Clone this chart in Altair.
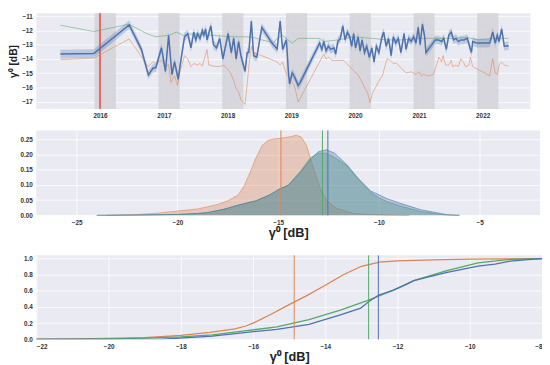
import altair as alt
import pandas as pd

BLUE = "#4C72B0"
ORANGE = "#DD8452"
GREEN = "#55A868"
RED = "#E8433C"
BG = "#EAEAF2"
TITLE = "γ⁰ [dB]"

# ---------------- Panel 1: time series (date, dB) ----------------
blue_series = [
    ("2015-05-19", -13.66), ("2015-11-26", -13.62), ("2016-06-16", -11.61), ("2016-08-25", -13.33),
    ("2016-10-04", -15.13), ("2016-10-30", -14.65), ("2016-11-16", -14.60), ("2016-12-18", -13.22),
    ("2017-01-10", -14.87), ("2017-01-28", -12.34), ("2017-02-16", -15.09), ("2017-03-03", -14.21),
    ("2017-03-24", -15.42), ("2017-04-04", -14.43), ("2017-04-29", -12.45), ("2017-05-18", -12.23),
    ("2017-06-05", -13.22), ("2017-06-21", -12.12), ("2017-07-03", -12.67), ("2017-07-12", -12.23),
    ("2017-07-27", -12.56), ("2017-08-09", -12.01), ("2017-08-18", -12.34), ("2017-08-28", -11.90),
    ("2017-09-05", -12.67), ("2017-09-27", -11.68), ("2017-10-12", -13.00), ("2017-10-30", -13.22),
    ("2017-11-17", -12.56), ("2017-12-05", -13.99), ("2018-01-04", -12.23), ("2018-01-22", -13.55),
    ("2018-02-05", -12.56), ("2018-02-19", -13.99), ("2018-03-05", -12.78), ("2018-03-18", -13.77),
    ("2018-04-11", -14.87), ("2018-04-23", -13.55), ("2018-05-02", -13.55), ("2018-05-17", -11.35),
    ("2018-05-30", -13.77), ("2018-06-17", -13.88), ("2018-07-16", -11.79), ("2018-09-13", -12.90),
    ("2018-10-12", -13.30), ("2018-10-29", -11.35), ("2018-11-12", -13.33), ("2018-12-04", -12.67),
    ("2018-12-15", -14.87), ("2018-12-22", -15.75), ("2019-01-06", -14.98), ("2019-01-21", -15.30),
    ("2019-02-09", -15.86), ("2019-02-21", -15.64), ("2019-06-12", -12.89), ("2019-06-25", -13.33),
    ("2019-07-06", -12.78), ("2019-07-19", -13.44), ("2019-08-01", -13.11), ("2019-08-15", -13.33),
    ("2019-09-02", -13.22), ("2019-09-12", -13.66), ("2019-09-24", -12.78), ("2019-10-09", -12.56),
    ("2019-10-23", -11.68), ("2019-11-05", -12.67), ("2019-11-18", -12.12), ("2019-12-02", -12.45),
    ("2019-12-13", -13.11), ("2019-12-24", -12.23), ("2020-01-04", -13.22), ("2020-01-19", -12.45),
    ("2020-01-30", -13.44), ("2020-02-10", -12.67), ("2020-02-24", -13.55), ("2020-03-08", -13.11),
    ("2020-03-23", -13.88), ("2020-04-06", -13.22), ("2020-04-19", -14.21), ("2020-05-02", -13.11),
    ("2020-05-17", -13.55), ("2020-06-01", -12.56), ("2020-06-13", -12.12), ("2020-06-27", -13.11),
    ("2020-07-11", -12.56), ("2020-07-26", -13.77), ("2020-08-07", -12.45), ("2020-08-21", -12.89),
    ("2020-09-05", -12.56), ("2020-09-20", -13.55), ("2020-10-08", -12.23), ("2020-10-19", -13.33),
    ("2020-11-03", -12.56), ("2020-11-17", -12.78), ("2020-12-02", -12.45), ("2020-12-15", -12.89),
    ("2020-12-28", -11.79), ("2021-01-08", -13.00), ("2021-01-21", -11.57), ("2021-02-03", -12.45),
    ("2021-02-10", -13.55), ("2021-03-16", -13.00), ("2021-04-04", -12.67), ("2021-04-22", -12.67),
    ("2021-05-11", -12.78), ("2021-05-23", -12.56), ("2021-06-07", -13.33), ("2021-06-21", -12.34),
    ("2021-07-05", -12.12), ("2021-07-18", -12.67), ("2021-08-01", -12.56), ("2021-08-15", -12.78),
    ("2021-08-29", -12.67), ("2021-09-17", -12.67), ("2021-10-05", -12.56), ("2021-10-18", -13.11),
    ("2021-10-29", -13.55), ("2021-11-05", -12.78), ("2021-11-29", -12.89), ("2022-02-10", -12.89),
    ("2022-02-28", -12.12), ("2022-03-14", -12.89), ("2022-03-26", -12.34), ("2022-04-05", -12.78),
    ("2022-04-20", -11.90), ("2022-05-05", -13.11), ("2022-05-30", -13.07),
]
blue_ci_half = 0.3

green_series = [
    ("2015-05-19", -11.64), ("2015-11-26", -12.08), ("2016-06-16", -11.57), ("2016-09-25", -12.23),
    ("2016-11-16", -12.45), ("2017-01-28", -12.34), ("2017-03-15", -12.12), ("2017-04-20", -12.34),
    ("2017-06-20", -12.23), ("2017-09-27", -12.34), ("2018-01-31", -12.45), ("2018-05-17", -12.45),
    ("2018-07-16", -12.67), ("2018-09-20", -12.85), ("2018-10-10", -12.60), ("2018-11-10", -12.34),
    ("2019-01-06", -12.89), ("2019-02-10", -12.56), ("2019-06-12", -12.56), ("2019-07-06", -12.78),
    ("2019-09-24", -12.67), ("2019-12-24", -12.45), ("2020-04-10", -12.56), ("2020-07-11", -12.67),
    ("2020-09-20", -12.67), ("2021-01-01", -12.56), ("2021-03-25", -12.56), ("2021-07-12", -12.56),
    ("2021-10-05", -12.50), ("2021-12-05", -12.67), ("2022-02-25", -12.56), ("2022-05-30", -12.56),
]

orange_series = [
    ("2015-05-19", -14.05), ("2015-11-26", -13.94), ("2016-06-16", -12.60), ("2016-10-04", -14.54),
    ("2016-10-30", -14.20), ("2016-11-16", -14.32), ("2016-12-18", -14.10), ("2017-01-10", -14.50),
    ("2017-01-28", -14.40), ("2017-02-10", -15.64), ("2017-03-03", -15.20), ("2017-03-20", -15.86),
    ("2017-04-04", -14.87), ("2017-04-29", -13.77), ("2017-05-18", -14.00), ("2017-06-05", -14.54),
    ("2017-06-21", -14.32), ("2017-07-12", -14.43), ("2017-07-27", -14.32), ("2017-08-09", -14.50),
    ("2017-09-05", -13.33), ("2017-09-15", -14.43), ("2017-10-12", -14.50), ("2017-11-17", -14.54),
    ("2017-12-10", -14.43), ("2018-01-04", -14.76), ("2018-01-22", -15.09), ("2018-02-05", -15.53),
    ("2018-02-19", -16.08), ("2018-03-05", -16.30), ("2018-03-18", -16.85), ("2018-04-11", -17.18),
    ("2018-04-23", -15.75), ("2018-05-02", -14.60), ("2018-05-17", -13.11), ("2018-05-30", -13.55),
    ("2018-06-17", -13.66), ("2018-07-16", -13.77), ("2018-09-20", -14.10), ("2018-10-12", -14.21),
    ("2018-10-29", -14.43), ("2018-11-12", -14.21), ("2018-12-04", -15.09), ("2018-12-22", -15.30),
    ("2019-01-21", -15.97), ("2019-02-09", -17.02), ("2019-07-06", -13.66), ("2019-07-19", -14.00),
    ("2019-08-01", -13.88), ("2019-08-24", -14.10), ("2019-09-24", -14.10), ("2019-10-27", -14.10),
    ("2019-11-14", -14.32), ("2019-12-02", -14.54), ("2019-12-20", -14.76), ("2020-01-07", -14.98),
    ("2020-01-23", -15.20), ("2020-02-24", -15.97), ("2020-03-14", -16.41), ("2020-03-27", -17.07),
    ("2020-04-10", -16.41), ("2020-04-29", -15.97), ("2020-05-17", -15.53), ("2020-06-05", -15.20),
    ("2020-06-20", -14.54), ("2020-07-02", -13.99), ("2020-07-20", -14.10), ("2020-08-07", -14.32),
    ("2020-08-25", -14.30), ("2020-09-23", -14.65), ("2020-10-19", -14.98), ("2020-11-17", -14.90),
    ("2020-12-15", -15.09), ("2021-01-02", -14.90), ("2021-01-15", -15.20), ("2021-01-29", -15.05),
    ("2021-02-17", -15.20), ("2021-03-25", -15.09), ("2021-04-12", -14.43), ("2021-04-26", -13.88),
    ("2021-05-11", -14.21), ("2021-05-19", -13.77), ("2021-06-03", -14.43), ("2021-06-21", -14.43),
    ("2021-07-05", -14.10), ("2021-07-13", -14.54), ("2021-08-01", -14.43), ("2021-08-15", -14.54),
    ("2021-08-29", -13.99), ("2021-09-17", -14.32), ("2021-09-25", -14.54), ("2021-10-14", -14.43),
    ("2021-10-23", -13.88), ("2021-11-05", -14.54), ("2021-12-08", -14.76), ("2022-01-14", -14.98),
    ("2022-02-10", -15.20), ("2022-02-28", -13.99), ("2022-03-14", -14.98), ("2022-03-26", -15.09),
    ("2022-04-05", -14.43), ("2022-04-20", -14.21), ("2022-05-05", -14.43), ("2022-05-30", -14.50),
]

winter_start = ["2015-12-01", "2016-12-01", "2017-12-01", "2018-12-01", "2019-12-01", "2020-12-01", "2021-12-01"]
winter_end = ["2016-04-01", "2017-04-01", "2018-04-01", "2019-04-01", "2020-04-01", "2021-04-01", "2022-04-01"]
event_date = ["2016-01-01"]
year_ticks = [2016, 2017, 2018, 2019, 2020, 2021, 2022]
db_ticks = [-11, -12, -13, -14, -15, -16, -17]

# ---------------- Panel 2: KDE ----------------
kde_orange_x = [-23.5, -22, -21, -20, -19, -18.5, -18, -17.5, -17, -16.7, -16.4, -16.1, -15.8, -15.5, -15.2,
                -14.8, -14.4, -14.1, -13.85, -13.6, -13.4, -13.15, -12.9, -12.6, -12.1, -11.3, -10.5, -9.5, -8.5]
kde_orange_y = [0, 0.003, 0.007, 0.014, 0.021, 0.028, 0.036, 0.048, 0.066, 0.095, 0.14, 0.189, 0.23, 0.247, 0.252,
                0.255, 0.259, 0.264, 0.258, 0.232, 0.19, 0.136, 0.088, 0.05, 0.023, 0.007, 0.003, 0.001, 0]
kde_green_x = [-24, -22, -20, -19, -18.5, -17.7, -16.9, -16.1, -15.4, -14.9, -14.5, -13.9, -13.4, -13.0, -12.7,
               -12.3, -11.6, -11.0, -10.4, -10.0, -9.6, -8.9, -7.9, -6.8, -6]
kde_green_y = [0, 0.001, 0.003, 0.006, 0.009, 0.02, 0.035, 0.048, 0.068, 0.088, 0.1, 0.145, 0.19, 0.205, 0.205,
               0.195, 0.165, 0.118, 0.075, 0.058, 0.045, 0.03, 0.012, 0.002, 0]
kde_blue_x = [-24, -22, -20, -19, -18.5, -17.7, -16.9, -16.1, -15.4, -14.9, -14.5, -13.9, -13.4, -13.0, -12.6,
              -12.2, -11.6, -11.0, -10.4, -10.0, -9.6, -8.9, -7.9, -6.6, -6]
kde_blue_y = [0, 0.001, 0.003, 0.006, 0.009, 0.02, 0.035, 0.048, 0.068, 0.088, 0.098, 0.141, 0.184, 0.21, 0.216,
              0.205, 0.168, 0.12, 0.08, 0.068, 0.055, 0.039, 0.018, 0.002, 0]

# ---------------- Panel 3: ECDF ----------------
ecdf_orange_x = [-22, -21, -20, -19, -18, -17.2, -16.5, -16.2, -16, -15.5, -15, -14.5, -14, -13.5, -13, -12.5,
                 -12, -11, -10, -9, -8]
ecdf_orange_y = [0.002, 0.005, 0.01, 0.022, 0.048, 0.085, 0.13, 0.165, 0.2, 0.31, 0.43, 0.545, 0.67, 0.8, 0.905,
                 0.955, 0.972, 0.985, 0.992, 0.997, 1.0]
ecdf_green_x = [-22, -21, -20, -19, -18, -17.13, -16.24, -15.34, -14.45, -13.56, -12.8, -12.13, -11.55, -10.66,
                -9.77, -8.88, -8]
ecdf_green_y = [0, 0.001, 0.005, 0.015, 0.03, 0.056, 0.104, 0.153, 0.245, 0.365, 0.486, 0.606, 0.727, 0.847,
                0.948, 0.99, 1.0]
ecdf_blue_x = [-22, -18.6, -17.8, -17.13, -16.24, -15.34, -14.45, -13.56, -13.02, -12.8, -12.53, -12.13, -11.78,
               -11.55, -10.66, -9.77, -9.3, -8.88, -8.3, -8]
ecdf_blue_y = [0, 0, 0.02, 0.04, 0.084, 0.124, 0.185, 0.305, 0.386, 0.466, 0.546, 0.606, 0.675, 0.727, 0.827,
               0.908, 0.93, 0.97, 0.99, 1.0]

median_series = ["orange", "green", "blue"]
median_values = [-14.86, -12.8, -12.53]

series_names = ["orange", "green", "blue"]
series_colors = [ORANGE, GREEN, BLUE]
color_scale = alt.Scale(domain=series_names, range=series_colors)

# ---------------- build tables ----------------
df_blue = pd.DataFrame(blue_series, columns=["date", "db"])
df_blue["lo"] = df_blue["db"] - blue_ci_half
df_blue["hi"] = df_blue["db"] + blue_ci_half
df_green = pd.DataFrame(green_series, columns=["date", "db"])
df_orange = pd.DataFrame(orange_series, columns=["date", "db"])
df_winter = pd.DataFrame({"start": winter_start, "end": winter_end})
df_event = pd.DataFrame({"date": event_date})

xdom = [alt.DateTime(year=2015, month=1, date=1), alt.DateTime(year=2022, month=10, date=1)]
xscale = alt.Scale(domain=xdom)
yscale1 = alt.Scale(domain=[-17.5, -10.8], nice=False, zero=False)
xvals = [alt.DateTime(year=y, month=1, date=1) for y in year_ticks]
xaxis1 = alt.Axis(values=xvals, format="%Y", title=None)
yaxis1 = alt.Axis(values=db_ticks, title=TITLE, titleFontSize=10.5, titlePadding=3, labelOverlap=False)

bands = alt.Chart(df_winter).mark_rect(color="#D2D2D8", opacity=0.85).encode(
    x=alt.X("start:T", scale=xscale, axis=xaxis1),
    x2="end:T",
)
event = alt.Chart(df_event).mark_rule(color=RED, strokeWidth=1.5).encode(
    x=alt.X("date:T", scale=xscale, axis=xaxis1))
ci = alt.Chart(df_blue).mark_area(color=BLUE, opacity=0.28).encode(
    x=alt.X("date:T", scale=xscale, axis=xaxis1),
    y=alt.Y("lo:Q", scale=yscale1, axis=yaxis1),
    y2="hi:Q",
)


def ts_line(df, color, width, opacity):
    return alt.Chart(df).mark_line(color=color, strokeWidth=width, opacity=opacity).encode(
        x=alt.X("date:T", scale=xscale, axis=xaxis1),
        y=alt.Y("db:Q", scale=yscale1, axis=yaxis1),
    )


p1 = alt.layer(bands, event, ci, ts_line(df_green, GREEN, 1, 0.55), ts_line(df_orange, ORANGE, 1, 0.55),
               ts_line(df_blue, BLUE, 1.5, 1)).properties(width=506, height=98)

# panel 2
kde_rows = []
for name, xs, ys in [("orange", kde_orange_x, kde_orange_y), ("green", kde_green_x, kde_green_y),
                     ("blue", kde_blue_x, kde_blue_y)]:
    for a, b in zip(xs, ys):
        kde_rows.append({"series": name, "x": a, "y": b})
df_kde = pd.DataFrame(kde_rows)
df_med = pd.DataFrame({"series": median_series, "x": median_values})

x2scale = alt.Scale(domain=[-27, -2], nice=False)
y2scale = alt.Scale(domain=[0, 0.28], nice=False)
x2axis = alt.Axis(values=[-25, -20, -15, -10, -5], title=TITLE)
y2axis = alt.Axis(values=[0, 0.05, 0.10, 0.15, 0.20, 0.25], format=".2f", title=None)
ccol = alt.Color("series:N", scale=color_scale, legend=None, sort=series_names)

kde_layers = []
for name, col in zip(series_names, series_colors):
    sub = df_kde[df_kde["series"] == name]
    kde_layers.append(alt.Chart(sub).mark_area(color=col, opacity=0.35).encode(
        x=alt.X("x:Q", scale=x2scale, axis=x2axis),
        y=alt.Y("y:Q", scale=y2scale, axis=y2axis),
    ))
    kde_layers.append(alt.Chart(sub).mark_line(color=col, strokeWidth=1, opacity=0.6).encode(
        x=alt.X("x:Q", scale=x2scale, axis=x2axis),
        y=alt.Y("y:Q", scale=y2scale, axis=y2axis),
    ))
kde_med = alt.Chart(df_med).mark_rule(strokeWidth=1).encode(
    x=alt.X("x:Q", scale=x2scale, axis=x2axis), color=ccol
)
p2 = alt.layer(*kde_layers, kde_med).properties(width=516, height=87)

# panel 3
ecdf_rows = []
for name, xs, ys in [("orange", ecdf_orange_x, ecdf_orange_y), ("green", ecdf_green_x, ecdf_green_y),
                     ("blue", ecdf_blue_x, ecdf_blue_y)]:
    for i, (a, b) in enumerate(zip(xs, ys)):
        ecdf_rows.append({"series": name, "x": a, "y": b, "order": i})
df_ecdf = pd.DataFrame(ecdf_rows)

x3scale = alt.Scale(domain=[-22, -8], nice=False)
y3scale = alt.Scale(domain=[0, 1.04], nice=False)
x3axis = alt.Axis(values=list(range(-22, -7, 2)), title=TITLE)
ecdf_line = alt.Chart(df_ecdf).mark_line(strokeWidth=1.3, clip=True).encode(
    x=alt.X("x:Q", scale=x3scale, axis=x3axis),
    y=alt.Y("y:Q", scale=y3scale, axis=alt.Axis(values=[0, 0.2, 0.4, 0.6, 0.8, 1.0], format=".1f", title=None)),
    color=ccol,
    order="order:Q",
)
ecdf_med = alt.Chart(df_med).mark_rule(strokeWidth=1).encode(
    x=alt.X("x:Q", scale=x3scale, axis=x3axis), color=ccol
)
p3 = alt.layer(ecdf_line, ecdf_med).properties(width=518, height=86)

lower = alt.concat(p2, p3, columns=1, spacing=15, align="none")
chart = alt.concat(p1, lower, columns=1, spacing=10, align="none").resolve_scale(
    color="independent"
).properties(
    padding={"left": 0, "top": 0, "right": 0, "bottom": 0}, background="white"
).configure_view(
    fill=BG, stroke=None
).configure_axis(
    grid=True, gridColor="white", gridWidth=0.8, domain=False, ticks=False,
    labelFont="Liberation Sans", labelFontSize=6.5, labelFontWeight="bold", labelColor="#333333",
    labelPadding=4, titleFont="Liberation Sans", titleFontSize=13, titleFontWeight="bold",
    titleColor="#222222",
).configure_axisX(titlePadding=1)

chart.save("out.html", embed_options={"renderer": "svg", "actions": False})
